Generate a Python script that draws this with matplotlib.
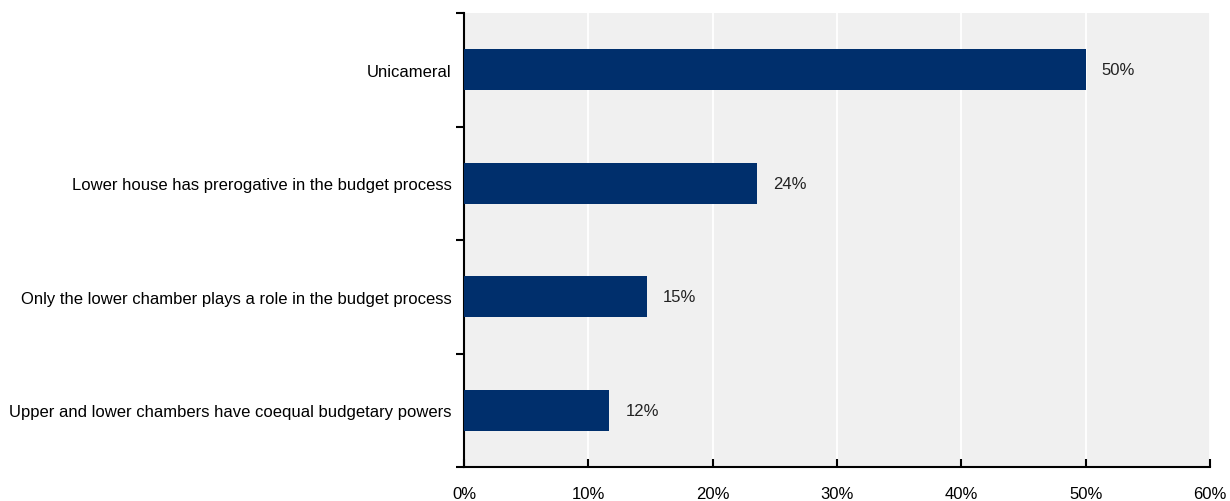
import matplotlib.pyplot as plt
from matplotlib import font_manager
from matplotlib.ticker import FuncFormatter

categories = ['Unicameral',
              'Lower house has prerogative in the budget process',
              'Only the lower chamber plays a role in the budget process',
              'Upper and lower chambers have coequal budgetary powers']
values = [50.0, 23.6, 14.7, 11.7]
value_labels = ['50%', '24%', '15%', '12%']

names = {f.name for f in font_manager.fontManager.ttflist}
family = ['Liberation Sans Narrow'] if 'Liberation Sans Narrow' in names else ['Liberation Sans']
plt.rcParams['font.family'] = family + ['DejaVu Sans']

fig = plt.figure(figsize=(12.3, 5.02), dpi=100)
ax = fig.add_axes([0.3772, 0.0677, 0.6065, 0.9044])
ax.set_facecolor('#f0f0f0')

ypos = list(range(len(categories)))[::-1]
ax.barh(ypos, values, height=0.36, color='#002f6c', zorder=3)
for y, v, lab in zip(ypos, values, value_labels):
    ax.text(v + 1.3, y, lab, va='center', ha='left', fontsize=12, color='#222222', zorder=4)

ax.set_xlim(0, 60)
ax.set_ylim(-0.5, len(categories) - 0.5)
ax.set_xticks(range(0, 61, 10))
ax.xaxis.set_major_formatter(FuncFormatter(lambda x, p: f'{int(x)}%'))
ax.grid(axis='x', color='white', linewidth=1.3, zorder=1)

ax.set_yticks(ypos)
ax.set_yticklabels(categories)
ax.set_yticks([y + 0.5 for y in range(-1, len(categories))], minor=True)
ax.tick_params(axis='y', which='major', length=0, pad=9, labelsize=12)
ax.tick_params(axis='y', which='minor', length=6, width=1.5, direction='out')
ax.tick_params(axis='x', length=6, width=1.5, direction='in', pad=14, labelsize=12)

for s in ['top', 'right']:
    ax.spines[s].set_visible(False)
for s in ['left', 'bottom']:
    ax.spines[s].set_linewidth(1.5)

plt.savefig('out.png', dpi=100)
